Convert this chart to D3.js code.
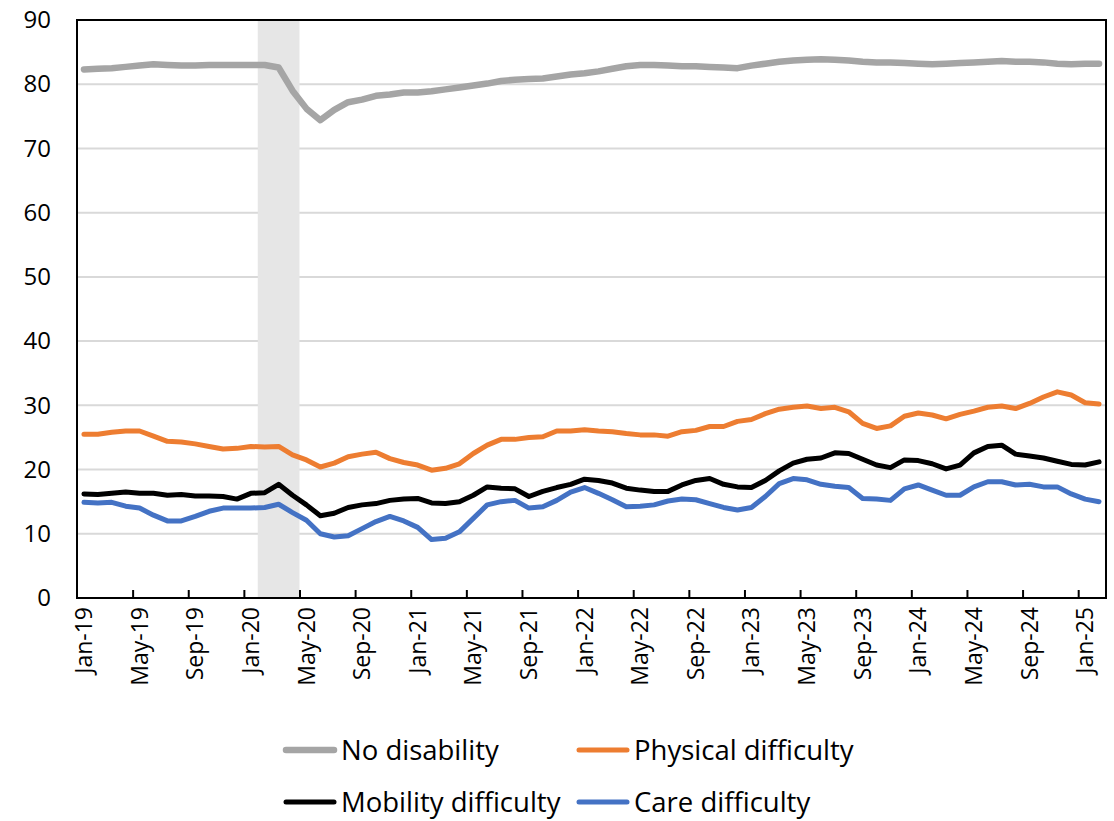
<!DOCTYPE html>
<html>
<head>
<meta charset="utf-8">
<script src="https://cdn.jsdelivr.net/npm/d3@7"></script>
<style>
  html, body { margin: 0; padding: 0; background: #ffffff; }
  svg { display: block; }
  text { font-family: "Open Sans", Lato, sans-serif; fill: #000; }
</style>
</head>
<body>
<svg id="chart" width="1114" height="821"></svg>
<script>
// Monthly categories, Jan-19 to Feb-25
const monthNames = ["Jan","Feb","Mar","Apr","May","Jun","Jul","Aug","Sep","Oct","Nov","Dec"];
const months = [];
for (let y = 19; y <= 25; y++) {
  for (let m = 0; m < 12; m++) {
    if (y === 25 && m > 1) break;
    months.push(monthNames[m] + "-" + y);
  }
}

// Shaded period (recession months)
const shadedMonths = ["Feb-20", "Mar-20", "Apr-20"];

const yTicks = [0, 10, 20, 30, 40, 50, 60, 70, 80, 90];

const noDisability = [
  82.3, 82.4, 82.5, 82.7, 82.9, 83.1, 83.0, 82.9, 82.9, 83.0, 83.0, 83.0,
  83.0, 83.0, 82.6, 79.0, 76.2, 74.4, 76.0, 77.2, 77.6, 78.2, 78.4, 78.7,
  78.7, 78.9, 79.2, 79.5, 79.8, 80.1, 80.5, 80.7, 80.8, 80.9, 81.2, 81.5,
  81.7, 82.0, 82.4, 82.8, 83.0, 83.0, 82.9, 82.8, 82.8, 82.7, 82.6, 82.5,
  82.9, 83.2, 83.5, 83.7, 83.8, 83.9, 83.8, 83.7, 83.5, 83.4, 83.4, 83.3,
  83.2, 83.1, 83.2, 83.3, 83.4, 83.5, 83.6, 83.5, 83.5, 83.4, 83.2, 83.1,
  83.2, 83.2
];

const physical = [
  25.5, 25.5, 25.8, 26.0, 26.0, 25.2, 24.4, 24.3, 24.0, 23.6, 23.2, 23.3,
  23.6, 23.5, 23.6, 22.3, 21.5, 20.4, 21.0, 22.0, 22.4, 22.7, 21.7, 21.1,
  20.7, 19.9, 20.2, 20.9, 22.5, 23.8, 24.7, 24.7, 25.0, 25.1, 26.0, 26.0,
  26.2, 26.0, 25.9, 25.6, 25.4, 25.4, 25.2, 25.9, 26.1, 26.7, 26.7, 27.5,
  27.8, 28.7, 29.4, 29.7, 29.9, 29.5, 29.7, 29.0, 27.2, 26.4, 26.8, 28.3,
  28.8, 28.5, 27.9, 28.6, 29.1, 29.7, 29.9, 29.5, 30.3, 31.3, 32.1, 31.6,
  30.4, 30.2
];

const mobility = [
  16.2, 16.1, 16.3, 16.5, 16.3, 16.3, 16.0, 16.1, 15.9, 15.9, 15.8, 15.4,
  16.3, 16.4, 17.7, 16.0, 14.5, 12.8, 13.2, 14.1, 14.5, 14.7, 15.2, 15.4,
  15.5, 14.8, 14.7, 15.0, 16.0, 17.3, 17.1, 17.0, 15.8, 16.6, 17.2, 17.7,
  18.5, 18.3, 17.9, 17.1, 16.8, 16.6, 16.6, 17.6, 18.3, 18.6, 17.7, 17.3,
  17.2, 18.3, 19.8, 21.0, 21.6, 21.8, 22.6, 22.5, 21.6, 20.7, 20.3, 21.5,
  21.4, 20.9, 20.1, 20.7, 22.6, 23.6, 23.8, 22.4, 22.1, 21.8, 21.3, 20.8,
  20.7, 21.2
];

const care = [
  14.9, 14.8, 14.9, 14.3, 14.0, 12.9, 12.0, 12.0, 12.7, 13.5, 14.0, 14.0,
  14.0, 14.1, 14.6, 13.3, 12.1, 10.0, 9.5, 9.7, 10.8, 11.9, 12.7, 12.0,
  11.0, 9.1, 9.3, 10.3, 12.4, 14.5, 15.0, 15.2, 14.0, 14.2, 15.2, 16.5,
  17.2, 16.3, 15.3, 14.2, 14.3, 14.5, 15.1, 15.4, 15.3, 14.7, 14.1, 13.7,
  14.1, 15.8, 17.8, 18.6, 18.4, 17.7, 17.4, 17.2, 15.5, 15.4, 15.2, 17.0,
  17.6, 16.8, 16.0, 16.0, 17.3, 18.1, 18.1, 17.6, 17.7, 17.3, 17.3, 16.2,
  15.4, 15.0
];

const seriesNames = ["No disability", "Physical difficulty", "Mobility difficulty", "Care difficulty"];
const seriesColors = ["#A5A5A5", "#ED7D31", "#000000", "#4472C4"];
const seriesWidths = [6.5, 5, 5, 5];

const series = [noDisability, physical, mobility, care].map((vals, i) => ({
  name: seriesNames[i],
  color: seriesColors[i],
  width: seriesWidths[i],
  values: vals.map((v, j) => ({ month: months[j], value: v }))
}));

const svg = d3.select("#chart");
const plot = { left: 77, right: 1106, top: 20, bottom: 598 };

const x = d3.scaleBand().domain(months).range([plot.left, plot.right]).paddingInner(0).paddingOuter(0);
const y = d3.scaleLinear().domain([0, 90]).range([plot.bottom, plot.top]);

// Horizontal gridlines
svg.append("g").selectAll("line")
  .data(yTicks.filter(d => d > 0 && d < 90))
  .join("line")
  .attr("x1", plot.left).attr("x2", plot.right)
  .attr("y1", d => y(d)).attr("y2", d => y(d))
  .attr("stroke", "#D9D9D9").attr("stroke-width", 2);

// Shaded band over the gridlines
const shadeStart = x(shadedMonths[0]);
const shadeEnd = x(shadedMonths[shadedMonths.length - 1]) + x.bandwidth();
svg.append("rect")
  .attr("x", shadeStart).attr("y", plot.top)
  .attr("width", shadeEnd - shadeStart).attr("height", plot.bottom - plot.top)
  .attr("fill", "#E6E6E6");

// Y axis labels
const yAxis = d3.axisLeft(y).tickValues(yTicks).tickSize(0).tickPadding(26);
const gy = svg.append("g").attr("transform", `translate(${plot.left},0)`).call(yAxis);
gy.select(".domain").remove();
gy.selectAll("text").style("font-size", "24px").style("font-family", "'Open Sans', Lato, sans-serif").attr("fill", "#000");

// X axis: labels on every 4th month, centred on the month
const labelMonths = months.filter((d, i) => i % 4 === 0);
const xAxis = d3.axisBottom(x).tickValues(labelMonths).tickSize(0).tickPadding(0);
const gx = svg.append("g").attr("transform", `translate(0,${plot.bottom})`).call(xAxis);
gx.select(".domain").remove();
gx.selectAll("text")
  .style("font-size", "23px").style("font-family", "'Open Sans', Lato, sans-serif")
  .attr("fill", "#000")
  .attr("transform", "rotate(-90)")
  .attr("text-anchor", "end")
  .attr("dy", "0.35em")
  .attr("x", -9).attr("y", 0);

// Tick marks at month boundaries
const xBound = d3.scaleLinear().domain([0, months.length]).range([plot.left, plot.right]);
const tickAxis = d3.axisBottom(xBound)
  .tickValues(d3.range(4, months.length, 4))
  .tickSize(-8).tickFormat("");
const gt = svg.append("g").attr("transform", `translate(0,${plot.bottom})`).call(tickAxis);
gt.select(".domain").remove();
gt.selectAll("line").attr("stroke", "#000").attr("stroke-width", 2);

// Plot border
svg.append("rect")
  .attr("x", plot.left).attr("y", plot.top)
  .attr("width", plot.right - plot.left).attr("height", plot.bottom - plot.top)
  .attr("fill", "none").attr("stroke", "#000").attr("stroke-width", 2);

// Lines
const line = d3.line()
  .x(d => x(d.month) + x.bandwidth() / 2)
  .y(d => y(d.value));

svg.append("g").selectAll("path")
  .data(series)
  .join("path")
  .attr("d", d => line(d.values))
  .attr("fill", "none")
  .attr("stroke", d => d.color)
  .attr("stroke-width", d => d.width)
  .attr("stroke-linejoin", "round")
  .attr("stroke-linecap", "round");

// Legend (two rows, two columns)
const legendPos = [
  { x: 283, y: 750 }, { x: 576, y: 750 },
  { x: 283, y: 802 }, { x: 576, y: 802 }
];
const legend = svg.append("g").selectAll("g")
  .data(series)
  .join("g")
  .attr("transform", (d, i) => `translate(${legendPos[i].x},${legendPos[i].y})`);
legend.append("line")
  .attr("x1", 3).attr("x2", 51).attr("y1", 0).attr("y2", 0)
  .attr("stroke", d => d.color).attr("stroke-width", d => d.width)
  .attr("stroke-linecap", "round");
legend.append("text")
  .attr("x", 58).attr("y", 0).attr("dy", "0.35em")
  .style("font-size", "27.5px")
  .text(d => d.name);
</script>
</body>
</html>
